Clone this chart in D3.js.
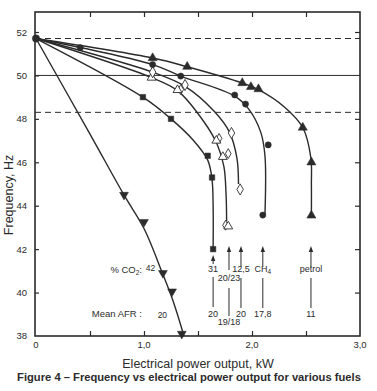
<!DOCTYPE html>
<html><head><meta charset="utf-8">
<script src="https://cdn.jsdelivr.net/npm/d3@7"></script>
<style>
body{margin:0;background:#fff;}
text{font-family:"Liberation Sans",Arial,sans-serif;fill:#2b2b2b;}
</style></head><body>
<svg id="c" width="377" height="391"></svg>
<script>
// ---------- data ----------
const startPoint = [[0, 51.7]];
const xTickValues = [0, 1, 2, 3];
const xTickLabels = ["0", "1,0", "2,0", "3,0"];
const yTickValues = [38, 40, 42, 44, 46, 48, 50, 52];
const refLinesDashed = [51.7, 48.3];
const refLineSolid = [50];

// CO2 42 % (filled inverted triangles)
const co2_42_markers = [[0.815,44.5],[1.0,43.25],[1.175,40.9],[1.26,40.05],[1.35,38.1]];
const co2_42_curve = [[0,51.7],[0.5,47.3],[0.82,44.45],[1.0,42.95],[1.17,40.9],[1.27,39.6],[1.37,38.0]];
// CO2 31 % (filled squares)
const co2_31_markers = [[0.99,49.0],[1.25,48.0],[1.59,46.3],[1.63,45.3],[1.64,42.0]];
const co2_31_curve = [[0,51.7],[0.99,49.0],[1.25,48.0],[1.45,47.05],[1.59,46.1],[1.63,45.2],[1.64,44.0],[1.64,42.0]];
// CO2 20 % (open triangles) and 23 % (open diamonds, small)
const co2_20_markers = [[1.07,49.9],[1.31,49.33],[1.67,47.0],[1.73,46.25],[1.78,43.05]];
const co2_23_markers = [[1.34,49.35],[1.695,47.1],[1.78,46.4],[1.755,43.1]];
const co2_20_curve = [[0,51.7],[1.07,49.9],[1.31,49.3],[1.55,47.9],[1.68,46.8],[1.74,45.8],[1.76,44.5],[1.765,43.3]];
// CO2 12.5 % (open diamonds)
const co2_12_markers = [[1.08,50.15],[1.38,49.56],[1.81,47.35],[1.89,44.75]];
const co2_12_curve = [[0,51.7],[1.08,50.15],[1.38,49.5],[1.65,48.35],[1.79,47.4],[1.86,46.2],[1.875,45.0]];
// CH4 (filled circles)
const ch4_markers = [[0.41,51.28],[1.08,50.5],[1.34,49.97],[1.84,49.1],[1.94,48.68],[2.15,46.8],[2.10,43.57]];
const ch4_curve = [[0,51.7],[1.08,50.5],[1.34,49.97],[1.84,49.05],[1.97,48.45],[2.08,47.4],[2.12,46.3],[2.12,43.6]];
// petrol (filled triangles)
const petrol_markers = [[1.08,50.8],[1.40,50.4],[1.91,49.65],[1.99,49.47],[2.06,49.37],[2.47,47.6],[2.55,46.0],[2.55,43.55]];
const petrol_curve = [[0,51.7],[1.08,50.8],[1.40,50.4],[1.91,49.65],[2.06,49.35],[2.3,48.55],[2.47,47.6],[2.545,46.2],[2.55,45.0],[2.55,43.6]];

// annotations
const annoX = [1.64, 1.787, 1.898, 2.10, 2.546];
const co2Labels = ["31", "20/23", "12,5", "CH4", "petrol"];
const afrLabels = ["20", "19/18", "20", "17,8", "11"];
const firstCo2 = {x: 1.06, label: "42"};
const firstAfr = {x: 1.17, label: "20"};

// ---------- drawing ----------
const svg = d3.select("#c");
const x = d3.scaleLinear().domain([0,3]).range([36,360]);
const y = d3.scaleLinear().domain([38,52]).range([336,32]);
const L = 35, R = 360, T = 12, B = 336;
const ink = "#2b2b2b";

// reference lines
svg.selectAll(".dl").data(refLinesDashed).join("line")
  .attr("x1", L).attr("x2", R).attr("y1", d=>y(d)).attr("y2", d=>y(d))
  .attr("stroke", ink).attr("stroke-width", 1).attr("stroke-dasharray", "6,4");
svg.selectAll(".sl").data(refLineSolid).join("line")
  .attr("x1", L).attr("x2", R).attr("y1", d=>y(d)).attr("y2", d=>y(d))
  .attr("stroke", ink).attr("stroke-width", 1);

// frame
svg.append("rect").attr("x", L).attr("y", T).attr("width", R-L).attr("height", B-T)
  .attr("fill", "none").attr("stroke", ink).attr("stroke-width", 1.6);

// axes ticks (inward)
const xAxisB = d3.axisBottom(x).tickValues(d3.range(0.5,3,0.5)).tickSize(-5).tickFormat("");
svg.append("g").attr("transform", `translate(0,${B})`).call(xAxisB)
  .call(g=>g.select(".domain").remove()).selectAll("line").attr("stroke", ink).attr("stroke-width",1.2);
const xAxisT = d3.axisTop(x).tickValues(d3.range(0.5,3,0.5)).tickSize(-5).tickFormat("");
svg.append("g").attr("transform", `translate(0,${T})`).call(xAxisT)
  .call(g=>g.select(".domain").remove()).selectAll("line").attr("stroke", ink).attr("stroke-width",1.2);
const yAxisL = d3.axisLeft(y).tickValues(yTickValues.filter(v=>v>38)).tickSize(-4).tickPadding(8).tickFormat(d3.format("d"));
const gl = svg.append("g").attr("transform", `translate(${L},0)`).call(yAxisL);
gl.select(".domain").remove();
gl.selectAll("line").attr("stroke", ink).attr("stroke-width",1.2);
gl.selectAll("text").attr("font-size", 9.5).attr("fill", ink).attr("font-family", "Liberation Sans, Arial");
svg.append("text").attr("x", 27).attr("y", y(38)+3).attr("text-anchor","end").attr("font-size",9.5).text("38");
const yAxisR = d3.axisRight(y).tickValues(yTickValues.filter(v=>v!==50 && v>38)).tickSize(-5).tickFormat("");
svg.append("g").attr("transform", `translate(${R},0)`).call(yAxisR)
  .call(g=>g.select(".domain").remove()).selectAll("line").attr("stroke", ink).attr("stroke-width",1.2);

// x tick labels
svg.selectAll(".xtl").data(xTickValues).join("text")
  .attr("x", d=>x(d)).attr("y", 348).attr("text-anchor","middle").attr("font-size",9.5)
  .text((d,i)=>xTickLabels[i]);

// curves
const line = d3.line().x(d=>x(d[0])).y(d=>y(d[1])).curve(d3.curveCatmullRom.alpha(0.5));
[co2_42_curve, co2_31_curve, co2_20_curve, co2_12_curve, ch4_curve, petrol_curve].forEach(c=>{
  svg.append("path").attr("d", line(c)).attr("fill","none").attr("stroke", ink).attr("stroke-width",1.4);
});

// markers
const sym = (type, size) => d3.symbol().type(type).size(size);
function markers(data, type, size, filled, rot){
  svg.append("g").selectAll("path").data(data).join("path")
    .attr("transform", d=>`translate(${x(d[0])},${y(d[1])})${rot?` rotate(${rot})`:""}`)
    .attr("d", sym(type, size)())
    .attr("fill", filled ? ink : "#fff").attr("stroke", ink).attr("stroke-width", filled?0.5:0.9);
}
markers(co2_42_markers, d3.symbolTriangle, 34, true, 180);
markers(co2_31_markers, d3.symbolSquare, 30, true);
markers(co2_23_markers, d3.symbolDiamond, 28, false);
markers(co2_20_markers, d3.symbolTriangle, 34, false);
markers(co2_12_markers, d3.symbolDiamond, 36, false);
markers(ch4_markers, d3.symbolCircle, 30, true);
markers(petrol_markers, d3.symbolTriangle, 36, true);
markers(startPoint, d3.symbolCircle, 42, true);

// annotations
const arrowTip = [255, 246, 246, 246, 246];
const arrowEnd = [264, 270, 267, 267, 267];
const co2Base = [272, 281, 272, 272, 272];
const lowTop = [277, 288, 278, 278, 278];
const lowBot = [307, 316, 308, 308, 308];
const afrBase = [317, 325, 317, 317, 317];
annoX.forEach((v,i)=>{
  const px = x(v);
  svg.append("line").attr("x1",px).attr("x2",px).attr("y1",arrowTip[i]+3).attr("y2",arrowEnd[i]).attr("stroke",ink).attr("stroke-width",1);
  svg.append("path").attr("d", `M${px},${arrowTip[i]} L${px-2.2},${arrowTip[i]+6} L${px+2.2},${arrowTip[i]+6} Z`).attr("fill",ink);
  svg.append("line").attr("x1",px).attr("x2",px).attr("y1",lowTop[i]).attr("y2",lowBot[i]).attr("stroke",ink).attr("stroke-width",1);
  const t = svg.append("text").attr("x",px).attr("y",co2Base[i]).attr("text-anchor","middle").attr("font-size",9);
  if (co2Labels[i] === "CH4") { t.append("tspan").text("CH"); t.append("tspan").attr("font-size",6.5).attr("dy",2).text("4"); }
  else t.text(co2Labels[i]);
  svg.append("text").attr("x",px).attr("y",afrBase[i]).attr("text-anchor","middle").attr("font-size",9).text(afrLabels[i]);
});
const co2t = svg.append("text").attr("x",142).attr("y",273).attr("text-anchor","end").attr("font-size",9.5);
co2t.append("tspan").text("% CO");
co2t.append("tspan").attr("font-size",6.5).attr("dy",2).text("2");
co2t.append("tspan").attr("dy",-2).text(":");
svg.append("text").attr("x",x(firstCo2.x)).attr("y",271).attr("text-anchor","middle").attr("font-size",8.5).text(firstCo2.label);
svg.append("text").attr("x",142).attr("y",317).attr("text-anchor","end").attr("font-size",9.5).text("Mean AFR :");
svg.append("text").attr("x",x(firstAfr.x)).attr("y",318).attr("text-anchor","middle").attr("font-size",8.5).text(firstAfr.label);

// axis titles & caption
svg.append("text").attr("x",198).attr("y",368).attr("text-anchor","middle").attr("font-size",12.5).text("Electrical power output, kW");
svg.append("text").attr("transform","translate(13,195) rotate(-90)").attr("text-anchor","middle").attr("font-size",12.5).text("Frequency, Hz");
svg.append("text").attr("x",189).attr("y",381).attr("text-anchor","middle").attr("font-size",11.2).attr("font-weight","bold").text("Figure 4 – Frequency vs electrical power output for various fuels");
</script></body></html>
